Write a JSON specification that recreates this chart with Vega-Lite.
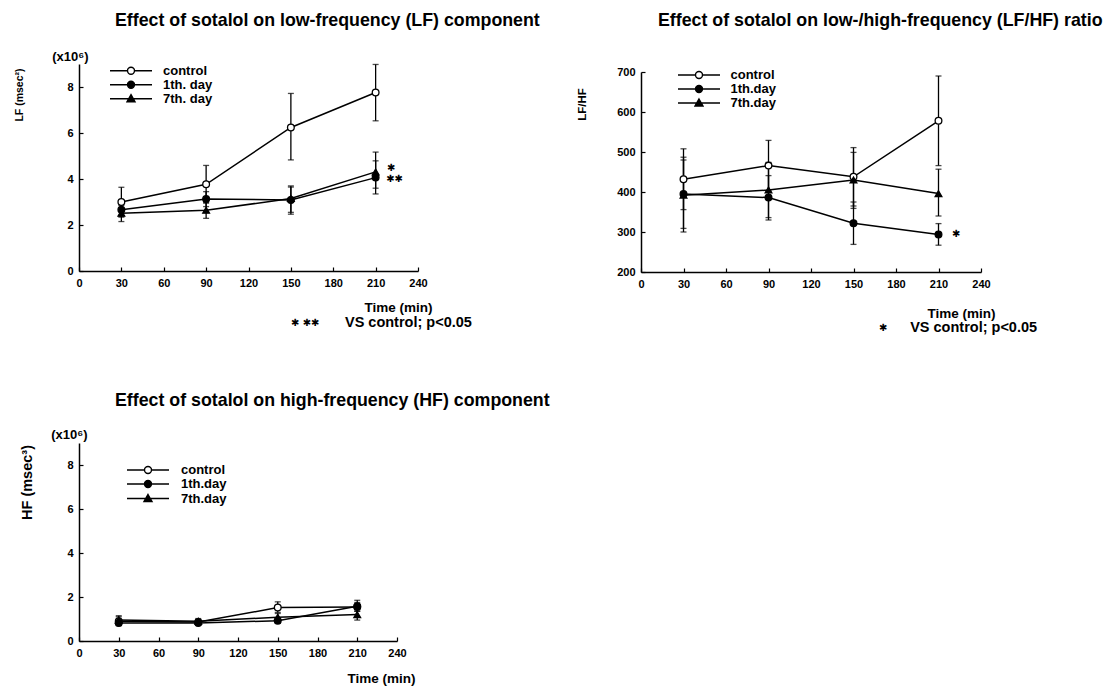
{
  "$schema": "https://vega.github.io/schema/vega-lite/v6.json",
  "autosize": {"type": "none"},
  "padding": {"left": 79, "top": 64, "right": 1025, "bottom": 622},
  "background": "white",
  "config": {
    "font": "Liberation Sans",
    "view": {"stroke": null},
    "axis": {
      "grid": false,
      "labelFont": "Liberation Sans",
      "labelFontWeight": "bold",
      "labelFontSize": 11,
      "labelColor": "black",
      "labelPadding": 10,
      "labelFlush": false,
      "labelOverlap": false,
      "titleFont": "Liberation Sans",
      "titleFontWeight": "bold",
      "titleColor": "black",
      "domainColor": "black",
      "domainWidth": 1.5,
      "tickColor": "black",
      "tickWidth": 1.2,
      "tickSize": -4
    },
    "title": {"fontSize": 17.8, "fontWeight": "bold", "font": "Liberation Sans", "anchor": "start", "frame": "group", "color": "black"},
    "legend": {
      "orient": "none",
      "padding": 0,
      "labelFont": "Liberation Sans",
      "labelFontSize": 13,
      "labelFontWeight": "bold",
      "labelColor": "black",
      "symbolSize": 64,
      "symbolStrokeWidth": 1.4,
      "symbolOpacity": 1
    }
  },
  "datasets": {
    "lf": [
      {"time": 30, "series": "control", "mean": 3.0, "lo": 2.36, "hi": 3.64},
      {"time": 90, "series": "control", "mean": 3.77, "lo": 2.95, "hi": 4.59},
      {"time": 150, "series": "control", "mean": 6.24, "lo": 4.83, "hi": 7.72},
      {"time": 210, "series": "control", "mean": 7.76, "lo": 6.53, "hi": 8.98},
      {"time": 30, "series": "1th. day", "mean": 2.66, "lo": 2.35, "hi": 2.97},
      {"time": 90, "series": "1th. day", "mean": 3.13, "lo": 2.8, "hi": 3.45},
      {"time": 150, "series": "1th. day", "mean": 3.09, "lo": 2.55, "hi": 3.65},
      {"time": 210, "series": "1th. day", "mean": 4.06, "lo": 3.35, "hi": 4.79},
      {"time": 30, "series": "7th. day", "mean": 2.51, "lo": 2.15, "hi": 2.85},
      {"time": 90, "series": "7th. day", "mean": 2.64, "lo": 2.29, "hi": 2.98},
      {"time": 150, "series": "7th. day", "mean": 3.15, "lo": 2.47, "hi": 3.7},
      {"time": 210, "series": "7th. day", "mean": 4.31, "lo": 3.6, "hi": 5.17}
    ],
    "lf_stars": [
      {"time": 218, "value": 4.47, "label": "✱"},
      {"time": 217.5, "value": 3.99, "label": "✱✱"},
      {"time": 150, "value": -2.26, "label": "✱ ✱✱"}
    ],
    "lf_notes": [
      {"time": -19, "value": 9.3, "label": "(x10⁶)"}
    ],
    "lf_foot": [
      {"time": 188.3, "value": -2.26, "label": "VS control;  p<0.05"}
    ],
    "ratio": [
      {"time": 30, "series": "control", "mean": 432, "lo": 356, "hi": 508},
      {"time": 90, "series": "control", "mean": 466, "lo": 403, "hi": 529},
      {"time": 150, "series": "control", "mean": 438, "lo": 365, "hi": 511},
      {"time": 210, "series": "control", "mean": 578, "lo": 466, "hi": 690},
      {"time": 30, "series": "1th.day", "mean": 395, "lo": 300, "hi": 487},
      {"time": 90, "series": "1th.day", "mean": 386, "lo": 330, "hi": 441},
      {"time": 150, "series": "1th.day", "mean": 322, "lo": 269, "hi": 375},
      {"time": 210, "series": "1th.day", "mean": 294, "lo": 267, "hi": 321},
      {"time": 30, "series": "7th.day", "mean": 392, "lo": 309, "hi": 480},
      {"time": 90, "series": "7th.day", "mean": 405, "lo": 336, "hi": 474},
      {"time": 150, "series": "7th.day", "mean": 430, "lo": 359, "hi": 499},
      {"time": 210, "series": "7th.day", "mean": 396, "lo": 340, "hi": 457}
    ],
    "ratio_stars": [
      {"time": 219.5, "value": 295, "label": "✱"},
      {"time": 168, "value": 60, "label": "✱"}
    ],
    "ratio_foot": [
      {"time": 190, "value": 60, "label": "VS control;  p<0.05"}
    ],
    "hf": [
      {"time": 30, "series": "control", "mean": 0.9, "lo": 0.75, "hi": 1.1},
      {"time": 90, "series": "control", "mean": 0.86, "lo": 0.75, "hi": 0.97},
      {"time": 150, "series": "control", "mean": 1.52, "lo": 1.3, "hi": 1.78},
      {"time": 210, "series": "control", "mean": 1.55, "lo": 1.35, "hi": 1.75},
      {"time": 30, "series": "1th.day", "mean": 0.82, "lo": 0.7, "hi": 0.95},
      {"time": 90, "series": "1th.day", "mean": 0.82, "lo": 0.72, "hi": 0.92},
      {"time": 150, "series": "1th.day", "mean": 0.92, "lo": 0.8, "hi": 1.05},
      {"time": 210, "series": "1th.day", "mean": 1.58, "lo": 1.35, "hi": 1.85},
      {"time": 30, "series": "7th.day", "mean": 0.95, "lo": 0.8, "hi": 1.15},
      {"time": 90, "series": "7th.day", "mean": 0.9, "lo": 0.78, "hi": 1.02},
      {"time": 150, "series": "7th.day", "mean": 1.08, "lo": 0.9, "hi": 1.25},
      {"time": 210, "series": "7th.day", "mean": 1.2, "lo": 0.95, "hi": 1.42}
    ],
    "hf_notes": [
      {"time": -21, "value": 9.36, "label": "(x10⁶)"}
    ]
  },
  "columns": 2,
  "spacing": {"row": 171, "column": 223},
  "bounds": "flush",
  "resolve": {"scale": {"x": "independent", "y": "independent", "shape": "independent", "fill": "independent", "stroke": "independent"}},
  "concat": [
    {
      "width": 339,
      "height": 207,
      "title": {"text": "Effect of sotalol on low-frequency (LF) component", "dx": 36, "offset": 21},
      "layer": [
        {
          "data": {"name": "lf"},
          "mark": {"type": "line", "color": "black", "strokeWidth": 1.5},
          "encoding": {
            "x": {"field": "time", "type": "quantitative", "title": "Time (min)", "scale": {"domain": [0, 240]},
              "axis": {"values": [0, 30, 60, 90, 120, 150, 180, 210, 240], "tickCount": 20, "format": "d", "titleX": 353, "titleY": 36, "titleAlign": "right", "titleBaseline": "middle", "titleFontSize": 13.5}},
            "y": {"field": "mean", "type": "quantitative", "title": "LF (msec²)", "scale": {"domain": [0, 9]},
              "axis": {"values": [0, 2, 4, 6, 8], "format": "d", "titleX": -60, "titleY": 30.5, "titleAngle": -90, "titleAlign": "center", "titleBaseline": "middle", "titleFontSize": 10.5}},
            "detail": {"field": "series"}
          }
        },
        {
          "data": {"name": "lf"},
          "mark": {"type": "errorbar", "ticks": true, "size": 6, "thickness": 1.3, "color": "black"},
          "encoding": {
            "x": {"field": "time", "type": "quantitative", "title": "Time (min)"},
            "y": {"field": "lo", "type": "quantitative", "title": "LF (msec²)"},
            "y2": {"field": "hi"}
          }
        },
        {
          "data": {"name": "lf"},
          "mark": {"type": "point", "filled": true, "stroke": "black", "strokeWidth": 1.3, "size": 45, "opacity": 1},
          "encoding": {
            "x": {"field": "time", "type": "quantitative", "title": "Time (min)"},
            "y": {"field": "mean", "type": "quantitative", "title": "LF (msec²)"},
            "fill": {"condition": {"test": "datum.series === 'control'", "value": "white"}, "value": "black"},
            "shape": {"condition": {"test": "datum.series === '7th. day'", "value": "triangle-up"}, "value": "circle"}
          }
        },
        {
          "data": {"name": "lf"},
          "mark": {"type": "point", "filled": true, "strokeWidth": 1.4, "size": 64, "opacity": 0},
          "encoding": {
            "x": {"field": "time", "type": "quantitative", "title": "Time (min)"},
            "y": {"field": "mean", "type": "quantitative", "title": "LF (msec²)"},
            "fill": {"field": "series", "type": "nominal", "scale": {"domain": ["control", "1th. day", "7th. day"], "range": ["white", "black", "black"]}, "legend": {"title": null}},
            "stroke": {"field": "series", "type": "nominal", "scale": {"domain": ["control", "1th. day", "7th. day"], "range": ["black", "black", "black"]}, "legend": {"title": null}},
            "shape": {"field": "series", "type": "nominal",
              "scale": {"domain": ["control", "1th. day", "7th. day"], "range": [
                "M-5.25,0H-0.875M0.875,0H5.25M-0.875,0A0.875,0.875 0 1,0 0.875,0A0.875,0.875 0 1,0 -0.875,0Z",
                "M-5.25,0H5.25M-0.875,0A0.875,0.875 0 1,0 0.875,0A0.875,0.875 0 1,0 -0.875,0Z",
                "M-5.25,0H5.25M0,-1L1,0.75L-1,0.75Z"]},
              "legend": {"title": null, "orient": "none", "legendX": 45.5, "legendY": 0.2, "labelOffset": 25.5, "rowPadding": -1.5, "symbolOpacity": 1, "symbolStrokeWidth": 1.4}}
          }
        },
        {
          "data": {"name": "lf_stars"},
          "mark": {"type": "text", "font": "DejaVu Sans", "fontSize": 10, "fontWeight": "bold", "align": "left", "baseline": "middle", "color": "black"},
          "encoding": {
            "x": {"field": "time", "type": "quantitative", "title": "Time (min)"},
            "y": {"field": "value", "type": "quantitative", "title": "LF (msec²)"},
            "text": {"field": "label"}
          }
        },
        {
          "data": {"name": "lf_notes"},
          "mark": {"type": "text", "font": "Liberation Sans", "fontSize": 13, "fontWeight": "bold", "align": "left", "baseline": "middle", "color": "black"},
          "encoding": {
            "x": {"field": "time", "type": "quantitative", "title": "Time (min)"},
            "y": {"field": "value", "type": "quantitative", "title": "LF (msec²)"},
            "text": {"field": "label"}
          }
        },
        {
          "data": {"name": "lf_foot"},
          "mark": {"type": "text", "font": "Liberation Sans", "fontSize": 14.5, "fontWeight": "bold", "align": "left", "baseline": "middle", "color": "black"},
          "encoding": {
            "x": {"field": "time", "type": "quantitative", "title": "Time (min)"},
            "y": {"field": "value", "type": "quantitative", "title": "LF (msec²)"},
            "text": {"field": "label"}
          }
        }
      ]
    },
    {
      "width": 340,
      "height": 208,
      "title": {"text": "Effect of sotalol on low-/high-frequency (LF/HF) ratio", "dx": 17, "offset": 34},
      "layer": [
        {
          "data": {"name": "ratio"},
          "mark": {"type": "line", "color": "black", "strokeWidth": 1.5},
          "encoding": {
            "x": {"field": "time", "type": "quantitative", "title": "Time (min)", "scale": {"domain": [0, 240]},
              "axis": {"values": [0, 30, 60, 90, 120, 150, 180, 210, 240], "tickCount": 20, "format": "d", "titleX": 354, "titleY": 41, "titleAlign": "right", "titleBaseline": "middle", "titleFontSize": 13.5}},
            "y": {"field": "mean", "type": "quantitative", "title": "LF/HF", "scale": {"domain": [200, 700], "range": [208, 8]},
              "axis": {"values": [200, 300, 400, 500, 600, 700], "tickCount": 20, "format": "d", "titleX": -59, "titleY": 40, "titleAngle": -90, "titleAlign": "center", "titleBaseline": "middle", "titleFontSize": 11.5}},
            "detail": {"field": "series"}
          }
        },
        {
          "data": {"name": "ratio"},
          "mark": {"type": "errorbar", "ticks": true, "size": 6, "thickness": 1.3, "color": "black"},
          "encoding": {
            "x": {"field": "time", "type": "quantitative", "title": "Time (min)"},
            "y": {"field": "lo", "type": "quantitative", "title": "LF/HF"},
            "y2": {"field": "hi"}
          }
        },
        {
          "data": {"name": "ratio"},
          "mark": {"type": "point", "filled": true, "stroke": "black", "strokeWidth": 1.3, "size": 45, "opacity": 1},
          "encoding": {
            "x": {"field": "time", "type": "quantitative", "title": "Time (min)"},
            "y": {"field": "mean", "type": "quantitative", "title": "LF/HF"},
            "fill": {"condition": {"test": "datum.series === 'control'", "value": "white"}, "value": "black"},
            "shape": {"condition": {"test": "datum.series === '7th.day'", "value": "triangle-up"}, "value": "circle"}
          }
        },
        {
          "data": {"name": "ratio"},
          "mark": {"type": "point", "filled": true, "strokeWidth": 1.4, "size": 64, "opacity": 0},
          "encoding": {
            "x": {"field": "time", "type": "quantitative", "title": "Time (min)"},
            "y": {"field": "mean", "type": "quantitative", "title": "LF/HF"},
            "fill": {"field": "series", "type": "nominal", "scale": {"domain": ["control", "1th.day", "7th.day"], "range": ["white", "black", "black"]}, "legend": {"title": null}},
            "stroke": {"field": "series", "type": "nominal", "scale": {"domain": ["control", "1th.day", "7th.day"], "range": ["black", "black", "black"]}, "legend": {"title": null}},
            "shape": {"field": "series", "type": "nominal",
              "scale": {"domain": ["control", "1th.day", "7th.day"], "range": [
                "M-5.25,0H-0.875M0.875,0H5.25M-0.875,0A0.875,0.875 0 1,0 0.875,0A0.875,0.875 0 1,0 -0.875,0Z",
                "M-5.25,0H5.25M-0.875,0A0.875,0.875 0 1,0 0.875,0A0.875,0.875 0 1,0 -0.875,0Z",
                "M-5.25,0H5.25M0,-1L1,0.75L-1,0.75Z"]},
              "legend": {"title": null, "orient": "none", "legendX": 51.5, "legendY": 4.5, "labelOffset": 25, "rowPadding": -1, "symbolOpacity": 1, "symbolStrokeWidth": 1.4}}
          }
        },
        {
          "data": {"name": "ratio_stars"},
          "mark": {"type": "text", "font": "DejaVu Sans", "fontSize": 10, "fontWeight": "bold", "align": "left", "baseline": "middle", "color": "black"},
          "encoding": {
            "x": {"field": "time", "type": "quantitative", "title": "Time (min)"},
            "y": {"field": "value", "type": "quantitative", "title": "LF/HF"},
            "text": {"field": "label"}
          }
        },
        {
          "data": {"name": "ratio_foot"},
          "mark": {"type": "text", "font": "Liberation Sans", "fontSize": 14.5, "fontWeight": "bold", "align": "left", "baseline": "middle", "color": "black"},
          "encoding": {
            "x": {"field": "time", "type": "quantitative", "title": "Time (min)"},
            "y": {"field": "value", "type": "quantitative", "title": "LF/HF"},
            "text": {"field": "label"}
          }
        }
      ]
    },
    {
      "width": 318,
      "height": 198,
      "title": {"text": "Effect of sotalol on high-frequency (HF) component", "dx": 36, "offset": 19},
      "layer": [
        {
          "data": {"name": "hf"},
          "mark": {"type": "line", "color": "black", "strokeWidth": 1.5},
          "encoding": {
            "x": {"field": "time", "type": "quantitative", "title": "Time (min)", "scale": {"domain": [0, 240]},
              "axis": {"values": [0, 30, 60, 90, 120, 150, 180, 210, 240], "tickCount": 20, "format": "d", "titleX": 336, "titleY": 37, "titleAlign": "right", "titleBaseline": "middle", "titleFontSize": 13.5}},
            "y": {"field": "mean", "type": "quantitative", "title": "HF (msec³)", "scale": {"domain": [0, 9]},
              "axis": {"values": [0, 2, 4, 6, 8], "format": "d", "titleX": -52, "titleY": 39, "titleAngle": -90, "titleAlign": "center", "titleBaseline": "middle", "titleFontSize": 14.5}},
            "detail": {"field": "series"}
          }
        },
        {
          "data": {"name": "hf"},
          "mark": {"type": "errorbar", "ticks": true, "size": 6, "thickness": 1.3, "color": "black"},
          "encoding": {
            "x": {"field": "time", "type": "quantitative", "title": "Time (min)"},
            "y": {"field": "lo", "type": "quantitative", "title": "HF (msec³)"},
            "y2": {"field": "hi"}
          }
        },
        {
          "data": {"name": "hf"},
          "mark": {"type": "point", "filled": true, "stroke": "black", "strokeWidth": 1.3, "size": 45, "opacity": 1},
          "encoding": {
            "x": {"field": "time", "type": "quantitative", "title": "Time (min)"},
            "y": {"field": "mean", "type": "quantitative", "title": "HF (msec³)"},
            "fill": {"condition": {"test": "datum.series === 'control'", "value": "white"}, "value": "black"},
            "shape": {"condition": {"test": "datum.series === '7th.day'", "value": "triangle-up"}, "value": "circle"}
          }
        },
        {
          "data": {"name": "hf"},
          "mark": {"type": "point", "filled": true, "strokeWidth": 1.4, "size": 64, "opacity": 0},
          "encoding": {
            "x": {"field": "time", "type": "quantitative", "title": "Time (min)"},
            "y": {"field": "mean", "type": "quantitative", "title": "HF (msec³)"},
            "fill": {"field": "series", "type": "nominal", "scale": {"domain": ["control", "1th.day", "7th.day"], "range": ["white", "black", "black"]}, "legend": {"title": null}},
            "stroke": {"field": "series", "type": "nominal", "scale": {"domain": ["control", "1th.day", "7th.day"], "range": ["black", "black", "black"]}, "legend": {"title": null}},
            "shape": {"field": "series", "type": "nominal",
              "scale": {"domain": ["control", "1th.day", "7th.day"], "range": [
                "M-5.25,0H-0.875M0.875,0H5.25M-0.875,0A0.875,0.875 0 1,0 0.875,0A0.875,0.875 0 1,0 -0.875,0Z",
                "M-5.25,0H5.25M-0.875,0A0.875,0.875 0 1,0 0.875,0A0.875,0.875 0 1,0 -0.875,0Z",
                "M-5.25,0H5.25M0,-1L1,0.75L-1,0.75Z"]},
              "legend": {"title": null, "orient": "none", "legendX": 62.5, "legendY": 20.5, "labelOffset": 26.5, "rowPadding": -0.5, "symbolOpacity": 1, "symbolStrokeWidth": 1.4}}
          }
        },
        {
          "data": {"name": "hf_notes"},
          "mark": {"type": "text", "font": "Liberation Sans", "fontSize": 13, "fontWeight": "bold", "align": "left", "baseline": "middle", "color": "black"},
          "encoding": {
            "x": {"field": "time", "type": "quantitative", "title": "Time (min)"},
            "y": {"field": "value", "type": "quantitative", "title": "HF (msec³)"},
            "text": {"field": "label"}
          }
        }
      ]
    }
  ]
}
